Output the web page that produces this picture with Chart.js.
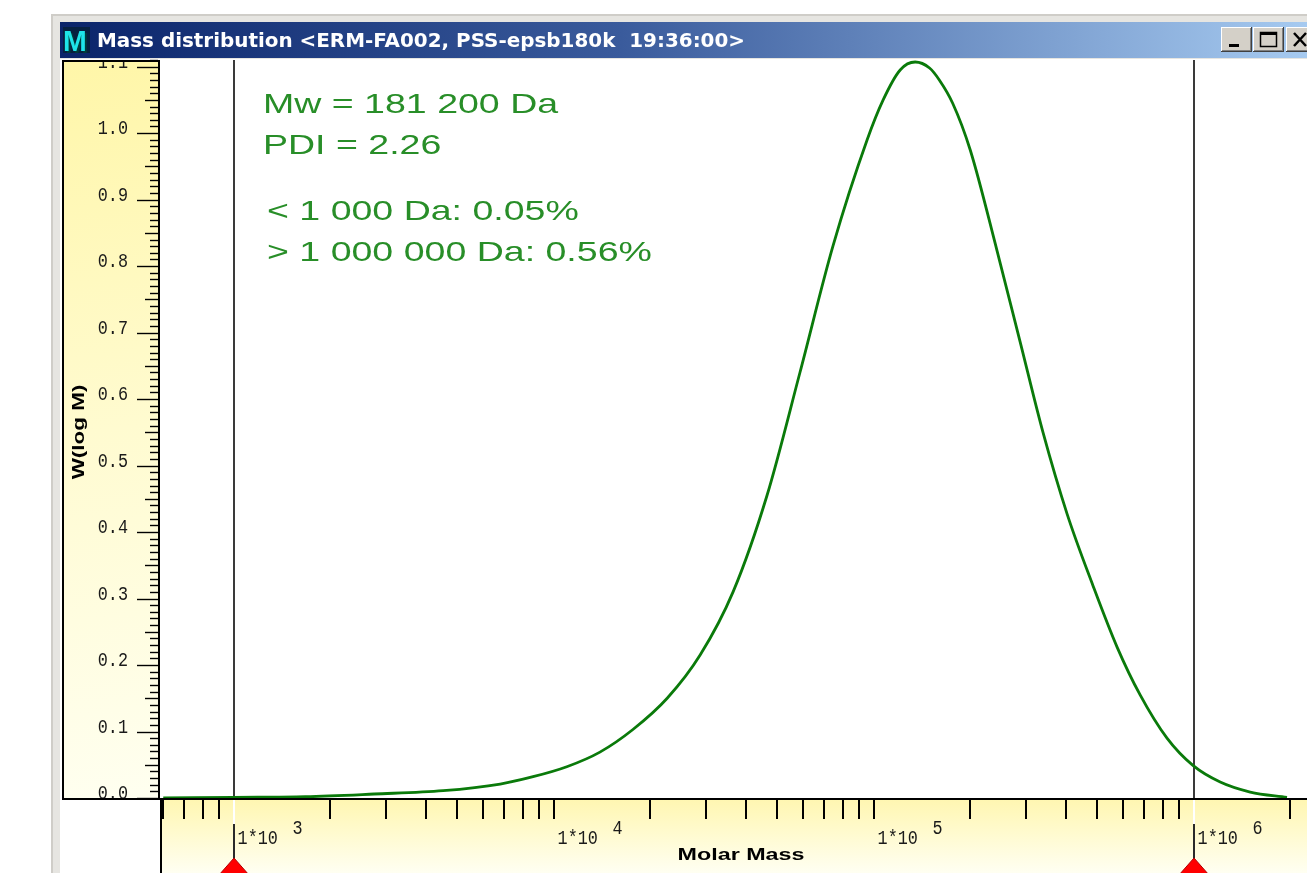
<!DOCTYPE html>
<html>
<head>
<meta charset="utf-8">
<title>Mass distribution</title>
<script src="https://cdn.jsdelivr.net/npm/chart.js@4.4.1/dist/chart.umd.min.js"></script>
<style>
  html, body { margin: 0; padding: 0; background: #ffffff; overflow: hidden; }
  #massChart { display: block; }
</style>
</head>
<body>
<canvas id="massChart" width="1307" height="873"></canvas>
<script>
// values
const molarMass = [603, 1000, 1675, 2750, 4520, 6810, 8630, 11000, 13960, 17700, 22650, 28710,
    36390, 46450, 58880, 74650, 95500, 107150, 121100, 134900, 149600, 160500, 176700, 200400,
    243200, 287100, 338800, 402700, 485300, 576800, 680800, 826000, 995400, 1211000, 1503000, 1959000];
const wLogM = [0.0, 0.001, 0.002, 0.006, 0.011, 0.021, 0.032, 0.047, 0.069, 0.103, 0.150, 0.215,
    0.310, 0.455, 0.640, 0.830, 0.990, 1.050, 1.095, 1.107, 1.098, 1.080, 1.045, 0.975,
    0.823, 0.686, 0.549, 0.427, 0.319, 0.227, 0.155, 0.090, 0.049, 0.024, 0.009, 0.001];

const yTickLabels = ['0.0', '0.1', '0.2', '0.3', '0.4', '0.5', '0.6', '0.7', '0.8', '0.9', '1.0', '1.1'];
const xDecadeExponents = ['3', '4', '5', '6'];
const markerMasses = [1000, 1000000];
const infoLines = ['Mw = 181 200 Da', 'PDI = 2.26', '< 1 000 Da: 0.05%', '> 1 000 000 Da: 0.56%'];
const windowTitle = 'Mass distribution <ERM-FA002, PSS-epsb180k  19:36:00>';
const xTitle = 'Molar Mass';
const yTitle = 'W(log M)';

const curveGreen = '#0a7a0a';
const textGreen = '#288e28';

// text helper: the app uses wide fonts, so stretch horizontally
function wideText(ctx, text, x, y, font, sx, align) {
    ctx.save();
    ctx.font = font;
    ctx.translate(x, y);
    ctx.scale(sx, 1);
    ctx.textAlign = align || 'left';
    ctx.textBaseline = 'alphabetic';
    ctx.fillText(text, 0, 0);
    ctx.restore();
}

function bevelButton(ctx, x, y, w, h) {
    ctx.fillStyle = '#d4d0c8';
    ctx.fillRect(x, y, w, h);
    ctx.fillStyle = '#ffffff';
    ctx.fillRect(x, y, w, 1);
    ctx.fillRect(x, y, 1, h);
    ctx.fillStyle = '#404040';
    ctx.fillRect(x, y + h - 1, w, 1);
    ctx.fillRect(x + w - 1, y, 1, h);
    ctx.fillStyle = '#808080';
    ctx.fillRect(x + 1, y + h - 2, w - 2, 1);
    ctx.fillRect(x + w - 2, y + 1, 1, h - 2);
}

const windowFrame = {
    id: 'windowFrame',
    beforeDraw(chart) {
        const ctx = chart.ctx;
        const area = chart.chartArea;
        const W = chart.width, H = chart.height;

        ctx.save();
        ctx.fillStyle = '#ffffff';
        ctx.fillRect(0, 0, W, H);

        // window frame
        ctx.fillStyle = '#e6e5e1';
        ctx.fillRect(51, 14, W - 51, H - 14);
        ctx.fillStyle = '#cfcdc8';
        ctx.fillRect(51, 14, W - 51, 2);
        ctx.fillRect(51, 14, 2, H - 14);

        // title bar
        const tg = ctx.createLinearGradient(60, 0, W, 0);
        tg.addColorStop(0, '#0a246a');
        tg.addColorStop(0.45, '#3a5b9c');
        tg.addColorStop(1, '#a6caf0');
        ctx.fillStyle = tg;
        ctx.fillRect(60, 22, W - 60, 36);

        // app icon
        ctx.fillStyle = '#062040';
        ctx.fillRect(63, 27, 27, 26);
        ctx.fillStyle = '#003c3c';
        wideText(ctx, 'M', 65, 53, 'bold 30px "Liberation Sans"', 0.95);
        ctx.fillStyle = '#1ee4e8';
        wideText(ctx, 'M', 63, 51, 'bold 30px "Liberation Sans"', 0.95);

        // title text, fitted to the width it has in the screenshot
        ctx.font = 'bold 20px "DejaVu Sans"';
        const tw = ctx.measureText(windowTitle).width;
        ctx.fillStyle = '#ffffff';
        wideText(ctx, windowTitle, 97, 47, 'bold 20px "DejaVu Sans"', 648 / tw);

        // caption buttons
        bevelButton(ctx, 1221, 27, 31, 25);
        bevelButton(ctx, 1253, 27, 31, 25);
        bevelButton(ctx, 1286, 27, 31, 25);
        ctx.fillStyle = '#000000';
        ctx.fillRect(1229, 44, 10, 3);
        ctx.strokeStyle = '#000000';
        ctx.lineWidth = 1.5;
        ctx.strokeRect(1260.5, 32.5, 16, 14);
        ctx.fillRect(1260, 32, 17, 3);
        ctx.lineWidth = 2.5;
        ctx.beginPath();
        ctx.moveTo(1294, 33); ctx.lineTo(1306, 46);
        ctx.moveTo(1306, 33); ctx.lineTo(1294, 46);
        ctx.stroke();

        // client area
        ctx.fillStyle = '#ffffff';
        ctx.fillRect(60, 59, W - 60, H - 59);

        // y axis panel
        const yg = ctx.createLinearGradient(62, area.top, area.left, area.bottom);
        yg.addColorStop(0, '#fff6a8');
        yg.addColorStop(0.5, '#fffbd0');
        yg.addColorStop(1, '#fffff0');
        ctx.fillStyle = yg;
        ctx.fillRect(62, area.top, area.left - 62, area.bottom - area.top);

        // x axis panel
        const xg = ctx.createLinearGradient(0, area.bottom, 0, H);
        xg.addColorStop(0, '#fff6b0');
        xg.addColorStop(1, '#fffff2');
        ctx.fillStyle = xg;
        ctx.fillRect(area.left, area.bottom, W - area.left, H - area.bottom);

        // marker lines behind the curve
        const xs = chart.scales.x;
        ctx.strokeStyle = '#3a3a3a';
        ctx.lineWidth = 2;
        markerMasses.forEach(m => {
            const px = Math.round(xs.getPixelForValue(m));
            ctx.beginPath();
            ctx.moveTo(px, area.top);
            ctx.lineTo(px, area.bottom);
            ctx.stroke();
        });

        // annotations
        ctx.fillStyle = textGreen;
        const infoY = [113, 154, 220, 261];
        const infoX = [263, 263, 267, 267];
        infoLines.forEach((t, i) => {
            wideText(ctx, t, infoX[i], infoY[i], '28px "Liberation Sans"', 1.34);
        });
        ctx.restore();
    }
};

const axisDecor = {
    id: 'axisDecor',
    afterDraw(chart) {
        const ctx = chart.ctx;
        const area = chart.chartArea;
        const xs = chart.scales.x, ys = chart.scales.y;
        const W = chart.width, H = chart.height;
        const labelFont = '21px "Liberation Mono"';

        ctx.save();
        ctx.fillStyle = '#000000';
        ctx.strokeStyle = '#000000';

        // y ticks, every 0.01
        ctx.lineWidth = 1.4;
        for (let i = 0; i <= 111; i++) {
            const py = Math.round(ys.getPixelForValue(i / 100)) + 0.5;
            let len = 8;
            if (i % 10 === 0) len = 21;
            else if (i % 5 === 0) len = 13;
            ctx.beginPath();
            ctx.moveTo(area.left - 2 - len, py);
            ctx.lineTo(area.left - 2, py);
            ctx.stroke();
        }

        // y tick labels, clipped by the panel
        ctx.save();
        ctx.beginPath();
        ctx.rect(62, area.top, area.left - 62, area.bottom - area.top);
        ctx.clip();
        ctx.fillStyle = '#1a1a1a';
        yTickLabels.forEach((lab, i) => {
            const py = ys.getPixelForValue(i / 10);
            wideText(ctx, lab, 128, py + 1, labelFont, 0.8, 'right');
        });
        ctx.restore();

        // y title
        ctx.save();
        ctx.translate(84, 432);
        ctx.rotate(-Math.PI / 2);
        ctx.scale(1.32, 1);
        ctx.font = 'bold 17px "Liberation Sans"';
        ctx.textAlign = 'center';
        ctx.fillText(yTitle, 0, 0);
        ctx.restore();

        // panel borders
        ctx.fillRect(62, area.top, 2, area.bottom - area.top);
        ctx.fillRect(62, area.top, area.left - 62, 2);
        ctx.fillRect(area.left - 2, area.top, 2, area.bottom - area.top);
        ctx.fillRect(62, area.bottom, W - 62, 2);
        ctx.fillRect(area.left, area.bottom, 2, H - area.bottom);

        // x ticks at 1..9 x 10^n
        ctx.lineWidth = 2;
        for (let n = 2; n <= 6; n++) {
            for (let k = 1; k <= 9; k++) {
                const v = k * Math.pow(10, n);
                if (v < xs.min || v > xs.max) continue;
                const px = Math.round(xs.getPixelForValue(v));
                ctx.beginPath();
                ctx.moveTo(px, area.bottom + 2);
                ctx.lineTo(px, area.bottom + 21);
                ctx.stroke();
            }
        }

        // x decade labels: 1*10 with raised exponent
        ctx.fillStyle = '#1a1a1a';
        xDecadeExponents.forEach(e => {
            const px = xs.getPixelForValue(Math.pow(10, Number(e)));
            wideText(ctx, '1*10', px + 4, 844, labelFont, 0.8);
            wideText(ctx, e, px + 59, 834, labelFont, 0.8);
        });

        // x title
        ctx.fillStyle = '#000000';
        wideText(ctx, xTitle, 741, 860, 'bold 17px "Liberation Sans"', 1.37, 'center');

        // markers through the x panel with red triangles
        markerMasses.forEach(m => {
            const px = Math.round(xs.getPixelForValue(m));
            ctx.fillStyle = '#ffffff';
            ctx.fillRect(px - 1, area.bottom + 2, 2, 24);
            ctx.fillStyle = '#2a2a2a';
            ctx.fillRect(px - 1, area.bottom + 26, 2, 36);
            ctx.beginPath();
            ctx.moveTo(px, 858);
            ctx.lineTo(px + 15, 875);
            ctx.lineTo(px - 15, 875);
            ctx.closePath();
            ctx.fillStyle = '#ff0000';
            ctx.fill();
            ctx.strokeStyle = '#b00000';
            ctx.lineWidth = 1;
            ctx.stroke();
        });
        ctx.restore();
    }
};

const points = molarMass.map((m, i) => ({ x: m, y: wLogM[i] }));

new Chart(document.getElementById('massChart').getContext('2d'), {
    type: 'line',
    data: {
        datasets: [{
            label: yTitle,
            data: points,
            borderColor: curveGreen,
            borderWidth: 2.8,
            pointRadius: 0,
            fill: false,
            cubicInterpolationMode: 'monotone'
        }]
    },
    options: {
        responsive: false,
        animation: false,
        devicePixelRatio: 1,
        layout: { padding: { left: 160, top: 60, right: 0, bottom: 75 } },
        scales: {
            x: { type: 'logarithmic', min: 589, max: 2262000, display: false },
            y: { type: 'linear', min: 0, max: 1.11, display: false }
        },
        plugins: {
            legend: { display: false },
            tooltip: { enabled: false },
            title: { display: false }
        }
    },
    plugins: [windowFrame, axisDecor]
});
</script>
</body>
</html>
